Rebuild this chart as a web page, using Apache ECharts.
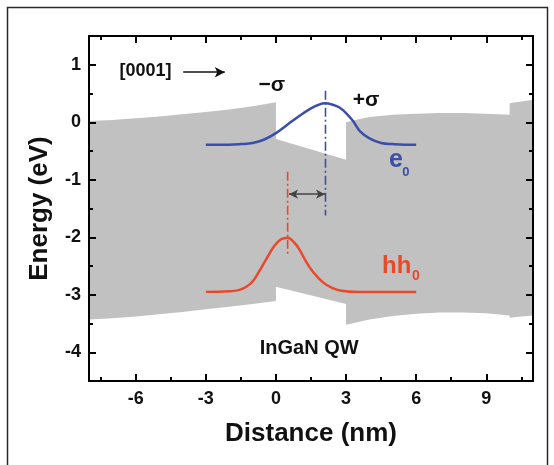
<!DOCTYPE html>
<html>
<head>
<meta charset="utf-8">
<script src="https://cdn.jsdelivr.net/npm/echarts@6/dist/echarts.min.js"></script>
<style>
  html, body { margin: 0; padding: 0; background: #fff; }
  #chart { width: 554px; height: 465px; }
</style>
</head>
<body>
<div id="chart"></div>
<script>
// Axis ticks (nm and eV)
const xMajor = [-6, -3, 0, 3, 6, 9];
const xMinor = [-7.5, -4.5, -1.5, 1.5, 4.5, 7.5, 10.5];
const yMajor = [-4, -3, -2, -1, 0, 1];
const yMinor = [-3.5, -2.5, -1.5, -0.5, 0.5];

// Conduction-band edge, left to right (with steps at the well interfaces)
const conductionEdge = [
  [-8, 0.02], [-7, 0.04], [-6, 0.07], [-5, 0.10], [-4, 0.14], [-3, 0.18],
  [-2, 0.22], [-1, 0.28], [0, 0.35],
  [0, -0.29], [3, -0.65],
  [3, 0.0], [3.5, 0.05], [4, 0.09], [5, 0.13], [6, 0.15], [7, 0.16],
  [8, 0.16], [9, 0.15], [10, 0.13],
  [10, 0.33], [10.5, 0.36], [11, 0.39]
];

// Valence-band edge, right to left
const valenceEdge = [
  [11, -3.36], [10.5, -3.38], [10, -3.40],
  [10, -3.36], [9, -3.32], [8, -3.31], [7, -3.31], [6, -3.33], [5, -3.37],
  [4, -3.43], [3, -3.52],
  [3, -3.16], [0, -2.86],
  [0, -3.11], [-1, -3.16], [-2, -3.21], [-3, -3.25], [-4, -3.30],
  [-5, -3.34], [-6, -3.38], [-7, -3.41], [-8, -3.43]
];

// Ground-state electron wavefunction (offset to its level)
const e0Wave = [
  [-3, -0.39], [-2, -0.39], [-1.5, -0.38], [-1, -0.36], [-0.5, -0.30],
  [0, -0.19], [0.5, -0.04], [1.0, 0.11], [1.5, 0.24], [1.8, 0.30],
  [2.1, 0.33], [2.4, 0.31], [2.7, 0.26], [3.0, 0.16], [3.3, 0.02],
  [3.6, -0.16], [4.0, -0.28], [4.5, -0.36], [5.0, -0.38], [5.5, -0.39],
  [6.0, -0.39]
];

// Ground-state heavy-hole wavefunction
const hh0Wave = [
  [-3, -2.95], [-2, -2.94], [-1.6, -2.92], [-1.3, -2.87], [-1.0, -2.77],
  [-0.7, -2.58], [-0.4, -2.37], [-0.1, -2.17], [0.2, -2.04], [0.5, -2.01],
  [0.8, -2.10], [1.0, -2.21], [1.3, -2.43], [1.6, -2.61], [2.0, -2.78],
  [2.4, -2.88], [2.8, -2.93], [3.5, -2.95], [6.0, -2.95]
];

// Wavefunction centroid markers and their separation
const e0Center = [[2.12, 0.55], [2.12, -1.62]];
const hh0Center = [[0.5, -0.86], [0.5, -2.30]];
const offsetArrow = [[0.56, -1.25], [2.10, -1.25]];
const growthArrow = [[-3.97, 0.87], [-2.19, 0.87]];

const X_RANGE = [-8, 11];
const Y_RANGE = [-4.5, 1.5];

const FONT = 'Liberation Sans, Arial, sans-serif';
const INK = '#000';
const BLUE = '#3b4fa7';
const RED = '#e8492b';

const notes = [
  { text: '[0001]', at: [-5.58, 0.89], size: 18, color: '#111' },
  { text: '\u2212\u03c3', at: [-0.18, 0.64], size: 21, color: '#111' },
  { text: '+\u03c3', at: [3.86, 0.38], size: 21, color: '#111' },
  { text: 'e', at: [5.13, -0.66], size: 25, color: BLUE },
  { text: '0', at: [5.56, -0.87], size: 13, color: BLUE },
  { text: 'hh', at: [5.17, -2.51], size: 24, color: RED },
  { text: '0', at: [5.99, -2.68], size: 14, color: RED },
  { text: 'InGaN QW', at: [1.42, -3.93], size: 20, color: '#111' }
];

function frameAxis(kind, position, withLabels) {
  const isX = kind === 'x';
  const range = isX ? X_RANGE : Y_RANGE;
  return {
    type: 'value', position, min: range[0], max: range[1], z: 10,
    axisLine: { show: true, onZero: false, lineStyle: { color: INK, width: 2 } },
    axisTick: { show: true, inside: true, length: 7, lineStyle: { color: INK, width: 2 } },
    axisLabel: withLabels ? {
      showMinLabel: false, showMaxLabel: false, margin: isX ? 9 : 8,
      fontSize: 18, fontWeight: 'bold', fontFamily: FONT, color: '#111'
    } : { show: false },
    splitLine: { show: false },
    name: withLabels ? (isX ? 'Distance (nm)' : 'Energy (eV)') : '',
    nameLocation: 'middle', nameGap: isX ? 40 : 36,
    nameTextStyle: { fontSize: 26, fontWeight: 'bold', fontFamily: FONT, color: '#111' }
  };
}

const chart = echarts.init(document.getElementById('chart'), null, { renderer: 'canvas' });

const baseSeries = [
  {
    // band gap region between the two band edges
    type: 'custom', z: 1, silent: true, clip: true,
    data: [[0, 0]],
    renderItem: function (params, api) {
      const pts = conductionEdge.concat(valenceEdge).map(p => api.coord(p));
      return { type: 'polygon', shape: { points: pts }, style: { fill: '#c1c1c1' } };
    }
  },
  {
    type: 'line', data: e0Wave, smooth: 0.4, showSymbol: false, z: 3,
    lineStyle: { color: BLUE, width: 2.5 }
  },
  {
    type: 'line', data: hh0Wave, smooth: 0.4, showSymbol: false, z: 3,
    lineStyle: { color: RED, width: 2.5 }
  },
  {
    type: 'line', data: e0Center, showSymbol: false, z: 4,
    lineStyle: { color: BLUE, width: 1.6, type: [9, 3, 2, 3] }
  },
  {
    type: 'line', data: hh0Center, showSymbol: false, z: 4,
    lineStyle: { color: RED, width: 1.6, type: [9, 3, 2, 3] },
    markLine: {
      silent: true, animation: false,
      symbol: ['arrow', 'arrow'], symbolSize: [7, 9],
      label: { show: false },
      lineStyle: { color: '#444', width: 1.6, type: 'solid' },
      data: [[{ coord: offsetArrow[0] }, { coord: offsetArrow[1] }]]
    }
  },
  {
    type: 'line', data: [], showSymbol: false,
    markLine: {
      silent: true, animation: false,
      symbol: ['none', 'arrow'], symbolSize: [8, 10],
      label: { show: false },
      lineStyle: { color: '#111', width: 1.6, type: 'solid' },
      data: [[{ coord: growthArrow[0] }, { coord: growthArrow[1] }]]
    }
  },
  {
    type: 'scatter', symbolSize: 0, z: 5, silent: true,
    itemStyle: { opacity: 1 },
    data: notes.map(n => ({
      value: n.at,
      label: {
        show: true, position: 'inside', formatter: n.text, opacity: 1,
        fontSize: n.size, fontWeight: 'bold', fontFamily: FONT, color: n.color
      }
    }))
  }
];

chart.setOption({
  animation: false,
  backgroundColor: '#fff',
  grid: { left: 89, right: 21, top: 36, bottom: 84, containLabel: false },
  xAxis: [frameAxis('x', 'bottom', true), frameAxis('x', 'top', false)],
  yAxis: [frameAxis('y', 'left', true), frameAxis('y', 'right', false)],
  graphic: [{
    type: 'rect', silent: true, z: 100,
    shape: { x: 7.5, y: 7.5, width: 540, height: 480 },
    style: { fill: 'none', stroke: '#2a2a2a', lineWidth: 1.5 }
  }],
  series: baseSeries
});

// Inward ticks on all four frame sides, drawn as mark lines in data space.
// Tick lengths are given in pixels and turned into axis units via the grid.
const c0 = chart.convertToPixel({ xAxisIndex: 0, yAxisIndex: 0 }, [X_RANGE[0], Y_RANGE[0]]);
const c1 = chart.convertToPixel({ xAxisIndex: 0, yAxisIndex: 0 }, [X_RANGE[1], Y_RANGE[1]]);
const xPerPx = (X_RANGE[1] - X_RANGE[0]) / (c1[0] - c0[0]);
const yPerPx = (Y_RANGE[1] - Y_RANGE[0]) / (c0[1] - c1[1]);
const tickPairs = [];
function xTicks(vals, lenPx) {
  const d = lenPx * yPerPx;
  vals.forEach(v => {
    tickPairs.push([{ coord: [v, Y_RANGE[0]] }, { coord: [v, Y_RANGE[0] + d] }]);
    tickPairs.push([{ coord: [v, Y_RANGE[1]] }, { coord: [v, Y_RANGE[1] - d] }]);
  });
}
function yTicks(vals, lenPx) {
  const d = lenPx * xPerPx;
  vals.forEach(v => {
    tickPairs.push([{ coord: [X_RANGE[0], v] }, { coord: [X_RANGE[0] + d, v] }]);
    tickPairs.push([{ coord: [X_RANGE[1], v] }, { coord: [X_RANGE[1] - d, v] }]);
  });
}
xTicks(xMajor, 7); xTicks(xMinor, 4);
yTicks(yMajor, 7); yTicks(yMinor, 4);

chart.setOption({
  series: baseSeries.concat([{
    type: 'line', data: [], showSymbol: false, z: 20,
    markLine: {
      silent: true, animation: false, symbol: ['none', 'none'],
      label: { show: false },
      lineStyle: { color: INK, width: 2, type: 'solid' },
      data: tickPairs
    }
  }])
});
</script>
</body>
</html>
